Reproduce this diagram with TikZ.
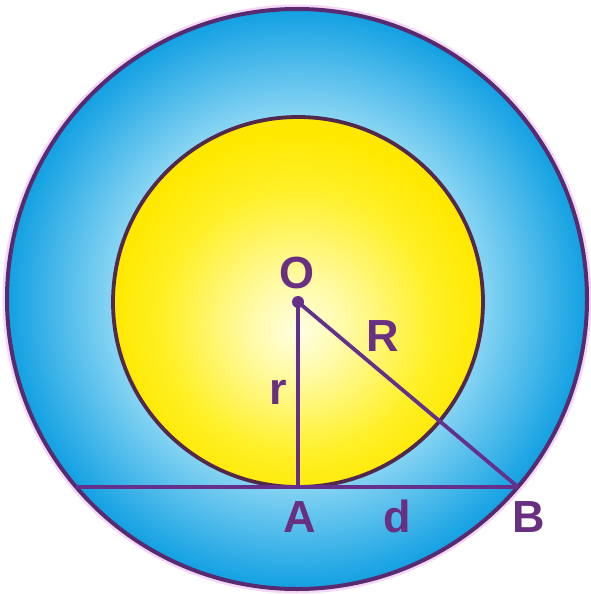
\documentclass[tikz,border=0pt]{standalone}
\usepackage{fontspec}
\setmainfont{Liberation Sans}
\definecolor{outline}{RGB}{88,42,112}
\definecolor{inline}{RGB}{82,40,75}
\definecolor{segline}{RGB}{100,48,140}
\definecolor{txt}{RGB}{105,48,130}
\definecolor{halo}{RGB}{245,215,245}
\definecolor{ringlight}{RGB}{200,238,250}
\definecolor{ringmid}{RGB}{135,212,243}
\definecolor{ringdark}{RGB}{18,160,226}
\definecolor{sunc}{RGB}{255,255,228}
\definecolor{sunl}{RGB}{255,250,160}
\definecolor{sunm}{RGB}{255,240,40}
\definecolor{sund}{RGB}{255,232,0}
\pgfdeclareradialshading{ringshade}{\pgfpoint{0bp}{0bp}}{color(0bp)=(white); color(10bp)=(ringlight); color(16bp)=(ringmid); color(25bp)=(ringdark); color(50bp)=(ringdark)}
\pgfdeclareradialshading{sunshade}{\pgfpoint{0bp}{-4bp}}{color(0bp)=(sunc); color(7bp)=(sunl); color(18bp)=(sunm); color(25bp)=(sund); color(50bp)=(sund)}
\tikzset{
  lbl/.style={text=txt, font=\bfseries\fontsize{45}{45}\selectfont, inner sep=0pt, anchor=base},
  seg/.style={draw=segline, line width=3.8pt},
}
\begin{document}
\begin{tikzpicture}[x=1pt, y=-1pt]
\useasboundingbox (0,0) rectangle (591,594);
\fill[white] (0,0) rectangle (591,594);
\coordinate (C) at (297,299);
\coordinate (O) at (298,302);
\coordinate (A) at (298,487);
\coordinate (B) at (518,487);
\coordinate (L) at (76,487);
% outer circle
\draw[halo, line width=7pt] (C) circle[radius=291];
\shade[shading=ringshade] (C) circle[radius=290];
\draw[outline, line width=4pt] (C) circle[radius=290];
% inner circle
\shade[shading=sunshade] (O) circle[radius=185];
\draw[inline, line width=3.8pt] (O) circle[radius=185];
% segments
\draw[seg] (L) -- (B);
\draw[seg] (O) -- (A);
\draw[seg] (O) -- (B);
\fill[segline] (O) circle[radius=6];
% labels
\node[lbl] (labO) at (297,288) {O};
\node[lbl] (labR) at (383,351) {R};
\node[lbl] (labr) at (278,404) {r};
\node[lbl] (labA) at (300,532) {A};
\node[lbl] (labd) at (397,532) {d};
\node[lbl] (labB) at (529,532) {B};
\end{tikzpicture}
\end{document}
